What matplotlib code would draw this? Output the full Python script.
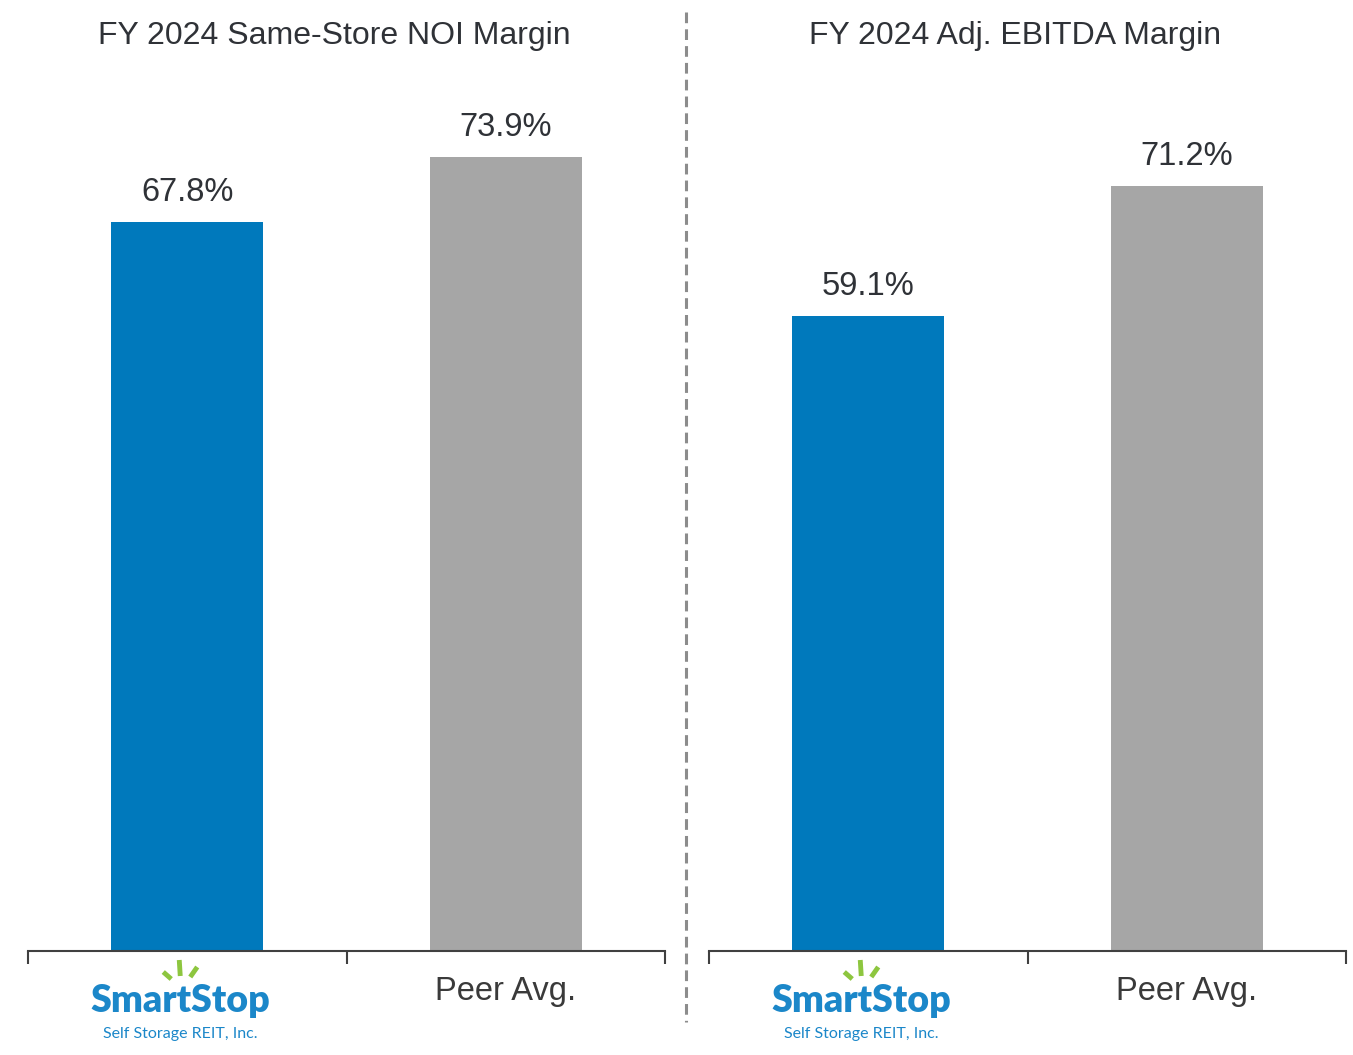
import matplotlib
matplotlib.use("Agg")
import matplotlib.pyplot as plt
from matplotlib.lines import Line2D

plt.rcParams['font.family'] = ['Liberation Sans', 'DejaVu Sans']

titles = ["FY 2024 Same-Store NOI Margin", "FY 2024 Adj. EBITDA Margin"]
categories = ["SmartStop", "Peer Avg."]
noi_values = [67.8, 73.9]
ebitda_values = [59.1, 71.2]
panel_values = [noi_values, ebitda_values]
bar_colors = ["#0079BC", "#A6A6A6"]

W, H = 1353, 1055
fig = plt.figure(figsize=(W / 100, H / 100), dpi=100)

def fx(px):
    return px / W

def fy(py):
    return 1 - py / H

base_px = 951
top_px = 80.25
ymax = 81.0
panel_left = [28, 709]
panel_w = 637
text_color = "#2F3237"

for i, (title, vals) in enumerate(zip(titles, panel_values)):
    ax = fig.add_axes([fx(panel_left[i]), fy(base_px), fx(panel_w), (base_px - top_px) / H])
    x = list(range(len(categories)))
    bars = ax.bar(x, vals, width=0.477, color=bar_colors)
    ax.set_xlim(-0.5, 1.5)
    ax.set_ylim(0, ymax)
    for s in ["top", "right", "left"]:
        ax.spines[s].set_visible(False)
    ax.spines["bottom"].set_color("#404040")
    ax.spines["bottom"].set_linewidth(1.5)
    ax.set_yticks([])
    ax.set_xticks([-0.5, 0.5, 1.5])
    ax.set_xticklabels([])
    ax.tick_params(axis="x", which="major", length=9, width=1.5, color="#404040", direction="out")
    ax.set_xticks(x, minor=True)
    ax.set_xticklabels(["", categories[1]], minor=True)
    ax.tick_params(axis="x", which="minor", length=0, pad=18, labelsize=23.5, labelcolor="#3A3A3A")
    for b, v in zip(bars, vals):
        ax.annotate(f"{v:.1f}%", (b.get_x() + b.get_width() / 2, v),
                    xytext=(0, 10), textcoords="offset points",
                    ha="center", va="bottom", fontsize=23.5, color=text_color)
    cx = panel_left[i] + panel_w / 2 - 12
    fig.text(fx(cx), fy(36), title, ha="center", va="center", fontsize=23, color=text_color)

    # SmartStop logo beneath first category
    lx = panel_left[i] + panel_w / 4
    fig.text(fx(lx - 7), fy(1001), "SmartStop", ha="center", va="center", fontsize=27,
             fontweight="heavy", color="#1B87C9", family=["Lato", "DejaVu Sans"])
    fig.text(fx(lx - 7), fy(1034), "Self Storage REIT, Inc.", ha="center", va="center",
             fontsize=11.5, color="#1B87C9", family=["Lato", "DejaVu Sans"])
    rays = [((lx - 24, 972), (lx - 16, 979)), ((lx - 8, 960), (lx - 7, 976)), ((lx + 10, 967), (lx + 3, 977))]
    for (x0, y0), (x1, y1) in rays:
        fig.add_artist(Line2D([fx(x0), fx(x1)], [fy(y0), fy(y1)], color="#8DC63F",
                              linewidth=3.5, solid_capstyle="butt"))

# dashed divider
fig.add_artist(Line2D([fx(686), fx(686)], [fy(12), fy(1022)], color="#8C8C8C",
                      linewidth=2.2, linestyle=(0, (3.5, 2))))

fig.savefig("out.png", dpi=100, facecolor="white")
